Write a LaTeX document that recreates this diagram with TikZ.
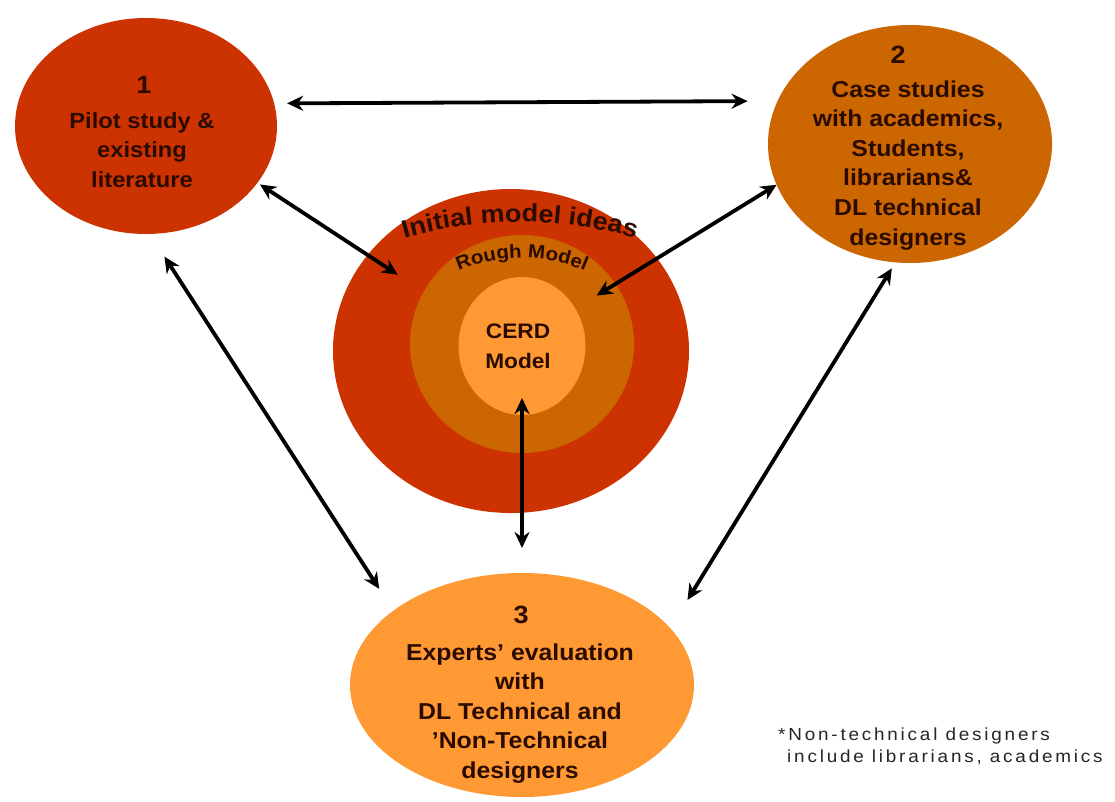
\documentclass[tikz,border=0pt]{standalone}
\usepackage{fontspec}
\setmainfont{Liberation Sans}[FakeStretch=1.08]
\newfontfamily\notefont{Liberation Sans}[FakeStretch=1.08,LetterSpace=16]
\usetikzlibrary{shapes.geometric,arrows.meta,decorations.text}
\definecolor{cred}{HTML}{CC3300}
\definecolor{corange}{HTML}{CC6600}
\definecolor{clight}{HTML}{FF9933}
\definecolor{txt}{HTML}{2B0B00}
\begin{document}
\begin{tikzpicture}[x=1pt,y=1pt,
  blob/.style={ellipse, inner sep=0pt, outer sep=0pt, draw=none},
  numtxt/.style={font=\bfseries\fontsize{25}{25}\selectfont, text=txt, anchor=base, inner sep=0pt},
  bodytxt/.style={font=\bfseries\fontsize{23}{30}\selectfont, text=txt, align=center, anchor=base, inner sep=0pt},
  dbl/.style={line width=3.8pt, black, arrows={Stealth[length=16pt,width=15pt]-Stealth[length=16pt,width=15pt]}}]

\useasboundingbox (0,0) rectangle (1115,-801);
\fill[white] (0,0) rectangle (1115,-801);

% outer circles
\node[blob, fill=cred, minimum width=262pt, minimum height=216pt] (n1) at (146,-126) {};
\node[blob, fill=corange, minimum width=284pt, minimum height=238pt] (n2) at (910,-144) {};
\node[blob, fill=clight, minimum width=344pt, minimum height=224pt] (n3) at (522,-685) {};

% central nested circles
\node[blob, fill=cred, minimum width=356pt, minimum height=324pt] (outer) at (511,-351) {};
\node[blob, fill=corange, minimum width=224pt, minimum height=218pt] (mid) at (522,-344) {};
\node[blob, fill=clight, minimum width=127pt, minimum height=138pt] (cerd) at (522,-346) {};

% curved labels
\path[decorate, decoration={text along path, text align=center, text color=txt,
   text={|\bfseries\fontsize{25}{25}\selectfont|Initial model ideas}}]
   (520,-642) ++(110:420) arc[start angle=110, end angle=70, radius=420];
\path[decorate, decoration={text along path, text align=center, text color=txt,
   text={|\bfseries\fontsize{19}{19}\selectfont|Rough Model}}]
   (522,-418) ++(125:160) arc[start angle=125, end angle=55, radius=160];

% texts (anchor=base is the baseline of the last line)
\node[numtxt] (t1n) at (144,-93) {1};
\node[bodytxt, font=\bfseries\fontsize{22}{29.5}\selectfont] (t1) at (142,-187) {Pilot study \&\\existing\\literature};
\node[numtxt] (t2n) at (898,-63) {2};
\node[bodytxt, font=\bfseries\fontsize{23}{29.6}\selectfont] (t2) at (908,-245) {Case studies\\with academics,\\Students,\\librarians\&\\DL technical\\designers};
\node[numtxt] (t3n) at (521,-623) {3};
\node[bodytxt, font=\bfseries\fontsize{23}{29.5}\selectfont] (t3) at (520,-778) {Experts' evaluation\\with\\DL Technical and\\'Non-Technical\\designers};
\node[bodytxt, font=\bfseries\fontsize{21}{30}\selectfont] (tc) at (518,-368) {CERD\\Model};

\node[font=\notefont\fontsize{17.5}{22}\selectfont, text=black!85, align=left, anchor=base west, inner sep=0pt] (note) at (778,-762)
  {*Non-technical designers\\\hspace*{9pt}include librarians, academics};

% arrows
\draw[dbl, shorten <=13pt, shorten >=30pt] (n1.10.2) -- (n2.162.9);
\draw[dbl, shorten <=3pt, shorten >=31pt] (n1.-27.2) -- (mid.152);
\draw[dbl, shorten >=25pt] (n2.197.1) -- (cerd.35.8);
\draw[dbl, shorten <=25pt, shorten >=52pt] (n3.north) -- (cerd.center);
\draw[dbl, shorten <=27pt, shorten >=26pt] (n1.-88.3) -- (n3.150.6);
\draw[dbl, shorten <=7pt, shorten >=33pt] (n2.-97.9) -- (n3.21.1);
\end{tikzpicture}
\end{document}
